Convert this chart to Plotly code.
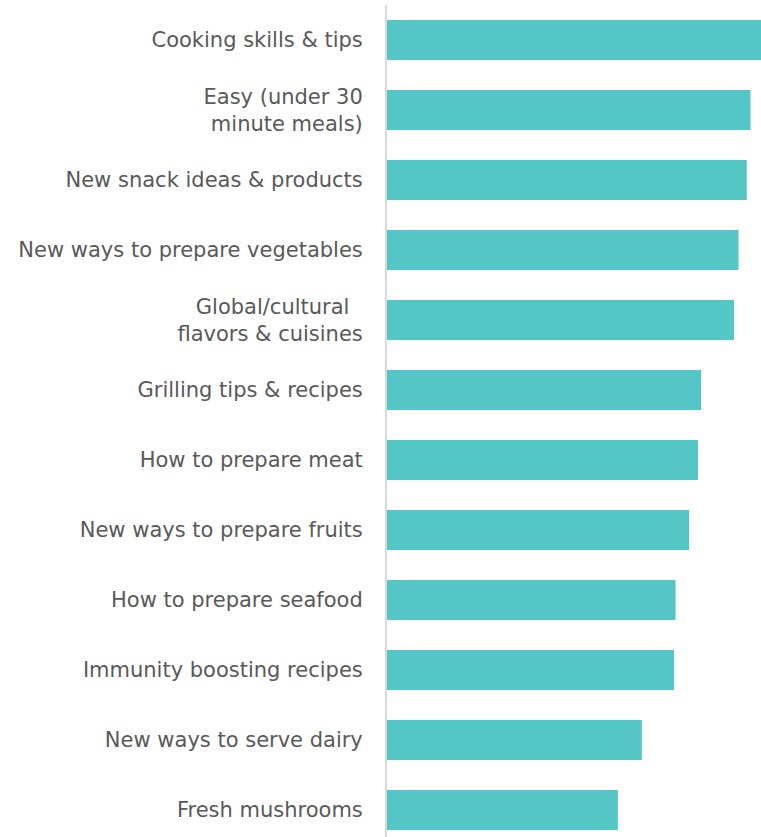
import plotly.graph_objects as go

# Topics of interest, listed top to bottom
topics = [
    "Cooking skills & tips",
    "Easy (under 30<br>minute meals)",
    "New snack ideas & products",
    "New ways to prepare vegetables",
    "Global/cultural\u00a0\u00a0<br>flavors & cuisines",
    "Grilling tips & recipes",
    "How to prepare meat",
    "New ways to prepare fruits",
    "How to prepare seafood",
    "Immunity boosting recipes",
    "New ways to serve dairy",
    "Fresh mushrooms",
]

# Share of respondents interested in each topic (%)
shares = [50.0, 48.5, 48.0, 46.9, 46.3, 41.9, 41.5, 40.3, 38.5, 38.3, 34.0, 30.8]

BAR_COLOR = "#53c6c5"
TEXT_COLOR = "#595959"
FONT = "DejaVu Sans, sans-serif"

fig = go.Figure(
    go.Bar(
        x=shares,
        y=topics,
        orientation="h",
        width=0.57,
        marker=dict(color=BAR_COLOR, line=dict(width=0)),
        hoverinfo="skip",
    )
)

fig.update_layout(
    width=761,
    height=837,
    margin=dict(l=387, r=0, t=5, b=0),
    paper_bgcolor="white",
    plot_bgcolor="white",
    showlegend=False,
    font=dict(family=FONT, size=21, color=TEXT_COLOR),
)

fig.update_xaxes(
    range=[0, 49.9],
    showgrid=False,
    zeroline=False,
    showticklabels=False,
    showline=False,
)

fig.update_yaxes(
    type="category",
    categoryorder="array",
    categoryarray=topics,
    range=[11.386, -0.5],
    showgrid=False,
    zeroline=False,
    showline=True,
    linecolor="#d9d9d9",
    linewidth=2,
    ticks="",
    ticklabelstandoff=18,
    tickfont=dict(family=FONT, size=21, color=TEXT_COLOR),
)

fig.write_html("out.html")
